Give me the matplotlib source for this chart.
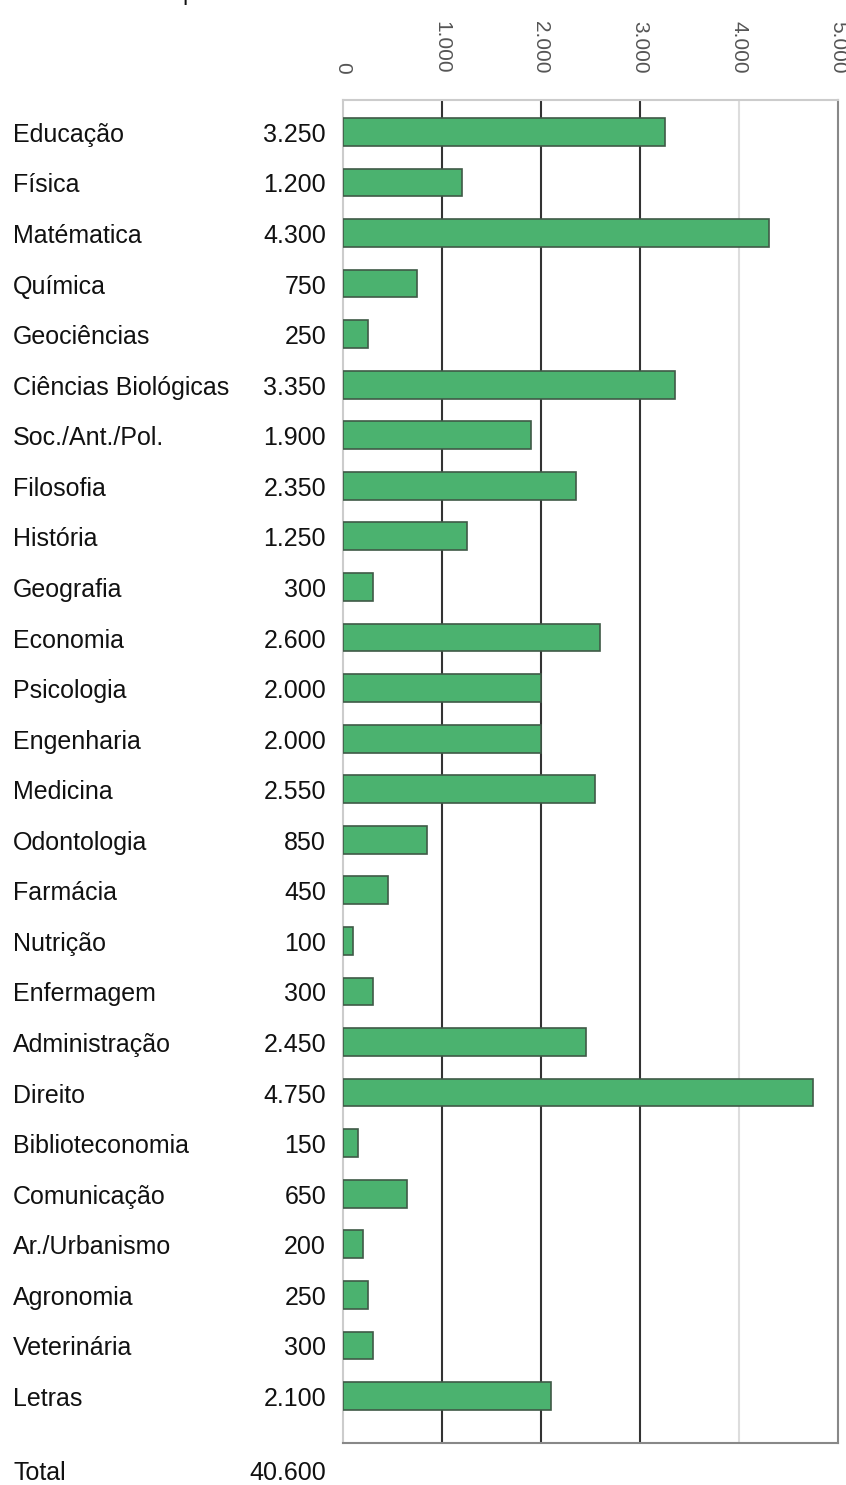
import matplotlib.pyplot as plt
from matplotlib.transforms import ScaledTranslation
import numpy as np

plt.rcParams['font.family'] = ['Liberation Sans', 'DejaVu Sans']

# data
cursos = ["Educação", "Física", "Matématica", "Química", "Geociências",
          "Ciências Biológicas", "Soc./Ant./Pol.", "Filosofia", "História",
          "Geografia", "Economia", "Psicologia", "Engenharia", "Medicina",
          "Odontologia", "Farmácia", "Nutrição", "Enfermagem", "Administração",
          "Direito", "Biblioteconomia", "Comunicação", "Ar./Urbanismo",
          "Agronomia", "Veterinária", "Letras"]
valores = [3250, 1200, 4300, 750, 250, 3350, 1900, 2350, 1250, 300, 2600,
           2000, 2000, 2550, 850, 450, 100, 300, 2450, 4750, 150, 650, 200,
           250, 300, 2100]
ticks = [0, 1000, 2000, 3000, 4000, 5000]
tick_labels = ["0", "1.000", "2.000", "3.000", "4.000", "5.000"]
total_label = "40.600"


def fmt(v):
    """number with dot as thousands separator"""
    return f"{v:,}".replace(",", ".")


W, H = 846, 1485
fig = plt.figure(figsize=(W / 100, H / 100), dpi=100)
ax = fig.add_axes([343 / W, 1 - 1443 / H, 495 / W, 1343 / H])

ys = np.arange(len(cursos))
ax.barh(ys, valores, height=0.55, color="#4bb26f", edgecolor="#3f5a47",
        linewidth=1.2, zorder=3)

ax.set_xlim(0, 5000)
ax.set_ylim(len(cursos) - 1 + 0.93, -0.63)

# grid lines: three dark ones, a light one at 4000
for x, c in zip([1000, 2000, 3000, 4000], ["#333333", "#333333", "#333333", "#dddddd"]):
    ax.axvline(x, color=c, linewidth=1.5, zorder=1)

ax.spines["left"].set_color("#cccccc")
ax.spines["top"].set_color("#cccccc")
ax.spines["right"].set_color("#888888")
ax.spines["bottom"].set_color("#888888")
for s in ax.spines.values():
    s.set_linewidth(1.5)

ax.set_yticks([])
ax.xaxis.tick_top()
ax.set_xticks(ticks)
ax.set_xticklabels(tick_labels, rotation=-90, fontsize=15, color="#555555")
ax.tick_params(axis="x", length=0, pad=19)

# category names and values on the left, a little below the bar centre
shift = ScaledTranslation(0, -3 / 100, fig.dpi_scale_trans)
for y, nome, v in zip(ys, cursos, valores):
    yfig = fig.transFigure.inverted().transform(ax.transData.transform((0, y)))[1]
    fig.text(13 / W, yfig, nome, fontsize=18, va="center", ha="left",
             color="#111111", transform=fig.transFigure + shift)
    fig.text(326 / W, yfig, fmt(v), fontsize=18, va="center", ha="right",
             color="#111111", transform=fig.transFigure + shift)

fig.text(13 / W, 1 - 1473 / H, "Total", fontsize=18, va="center", ha="left", color="#111111")
fig.text(326 / W, 1 - 1473 / H, total_label, fontsize=18, va="center", ha="right", color="#111111")

# fragment of the cut title at the top edge
fig.text(182 / W, 1.0, "p", fontsize=17, va="baseline", ha="left", color="#111111")

fig.savefig("out.png", dpi=100)
